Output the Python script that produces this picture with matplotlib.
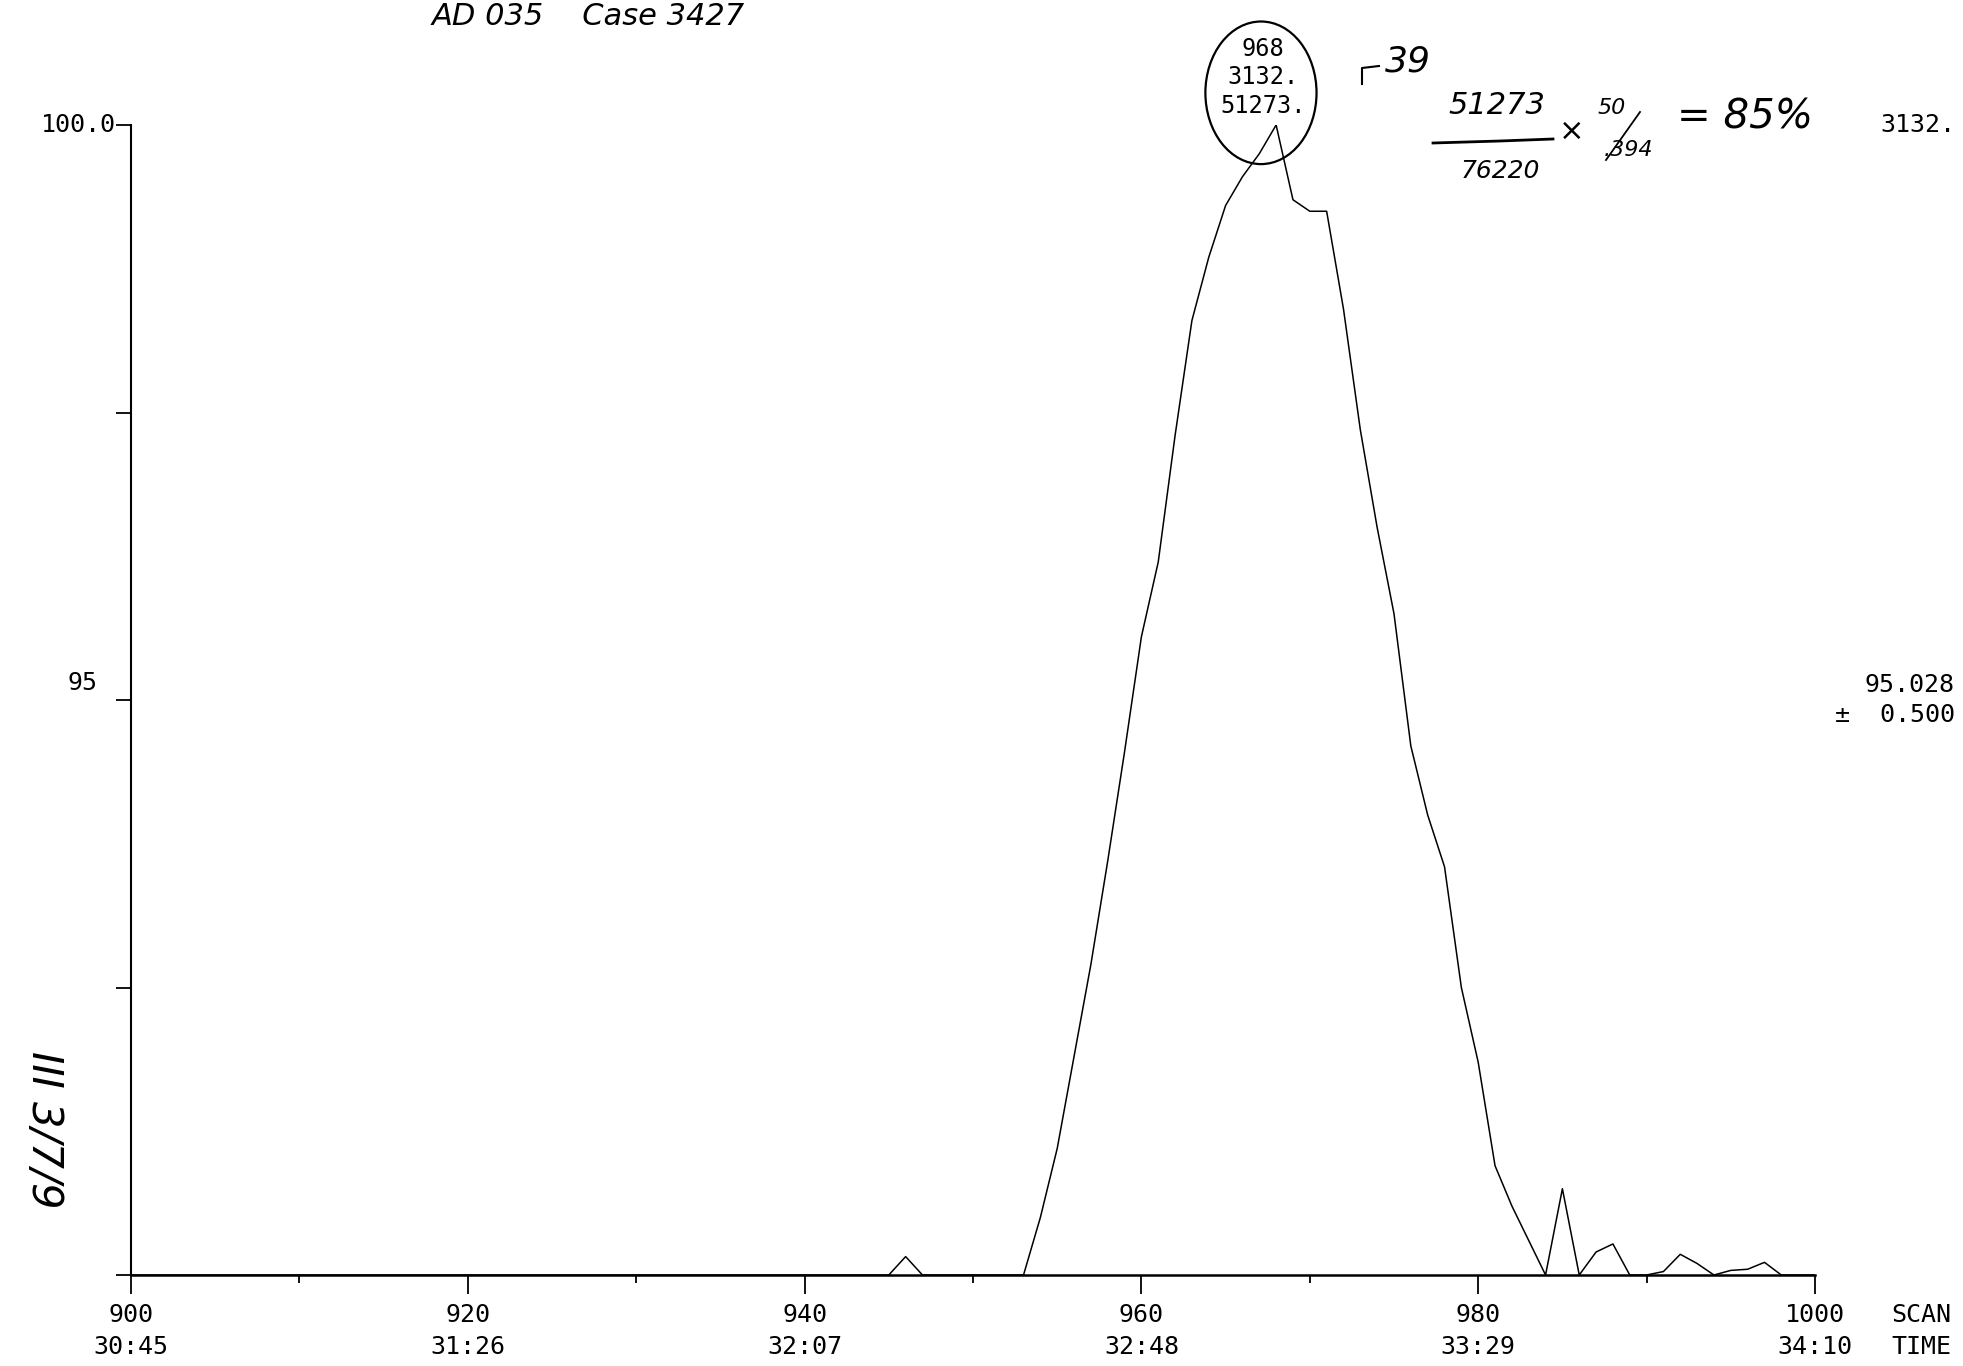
import numpy as np
import matplotlib
matplotlib.use("Agg")
import matplotlib.pyplot as plt
from matplotlib.patches import Ellipse
from matplotlib.lines import Line2D

# ion trace, one value per scan (relative abundance, %)
scans = np.arange(900, 1001)
intensity = [
    0, 0, 0, 0, 0, 0, 0, 0, 0, 0,            # 900-909
    0, 0, 0, 0, 0, 0, 0, 0, 0, 0,            # 910-919
    0, 0, 0, 0, 0, 0, 0, 0, 0, 0,            # 920-929
    0, 0, 0, 0, 0, 0, 0, 0, 0, 0,            # 930-939
    0, 0, 0, 0, 0, 0, 1.6, 0, 0, 0,          # 940-949
    0, 0, 0, 0, 5, 11, 19, 27, 36, 45.5,     # 950-959
    55.5, 62, 73, 83, 88.5, 93, 95.5, 97.5, 100, 93.5,   # 960-969
    92.5, 92.5, 84, 73.5, 65, 57.5, 46, 40, 35.5, 25,    # 970-979
    18.5, 9.5, 6, 3, 0, 7.5, 0, 2, 2.7, 0,   # 980-989
    0, 0.3, 1.8, 1.0, 0, 0.4, 0.5, 1.1, 0, 0,  # 990-999
    0,                                        # 1000
]

x_major = [900, 920, 940, 960, 980, 1000]
x_minor = [910, 930, 950, 970, 990]
scan_labels = ["900", "920", "940", "960", "980", "1000"]
time_labels = ["30:45", "31:26", "32:07", "32:48", "33:29", "34:10"]
y_ticks = [0, 25, 50, 75, 100]
peak_text = ["968", "3132.", "51273."]

MONO = "DejaVu Sans Mono"
HAND = dict(family="DejaVu Sans", style="italic", color="black")

W, H = 1963, 1366
def fx(px):
    return px / W
def fy(py):
    return 1 - py / H

fig = plt.figure(figsize=(W / 100, H / 100), dpi=100)
ax = fig.add_axes([fx(131), fy(1275), (1815 - 131) / W, (1275 - 125) / H])

ax.plot(scans, intensity, color="black", lw=1.1)
ax.set_xlim(900, 1000)
ax.set_ylim(0, 100)

for s in ["top", "right"]:
    ax.spines[s].set_visible(False)
ax.spines["bottom"].set_linewidth(1.8)
ax.spines["left"].set_linewidth(1.5)

ax.set_xticks(x_major)
ax.set_xticks(x_minor, minor=True)
ax.set_xticklabels([f"{s}\n{t}" for s, t in zip(scan_labels, time_labels)],
                   fontfamily=MONO, fontsize=18)
for lab in ax.get_xticklabels():
    lab.set_linespacing(1.45)
ax.tick_params(axis="x", which="major", length=14, width=1.3, direction="out", pad=6)
ax.tick_params(axis="x", which="minor", length=6, width=1.3, direction="out")
ax.set_yticks(y_ticks)
ax.set_yticklabels([])
ax.tick_params(axis="y", length=11, width=1.3, direction="out")

ax.annotate("100.0", xy=(0, 100), xycoords=("axes fraction", "data"),
            xytext=(-11, 0), textcoords="offset points", ha="right", va="center",
            fontfamily=MONO, fontsize=18)
ax.annotate("95", xy=(0, 50), xycoords=("axes fraction", "data"),
            xytext=(-24, 12), textcoords="offset points", ha="right", va="center",
            fontfamily=MONO, fontsize=18)
ax.annotate("SCAN\nTIME", xy=(1000, 0), xycoords="data",
            xytext=(55, -20), textcoords="offset points", ha="left", va="top",
            fontfamily=MONO, fontsize=18, linespacing=1.45)

# peak label and hand-drawn circle
i_peak = int(np.argmax(intensity))
p_scan = scans[i_peak]
ax.text(p_scan - 0.8, 100.6, "\n".join(peak_text), ha="center", va="bottom",
        fontfamily=MONO, fontsize=17, linespacing=1.25, clip_on=False)
ax.add_patch(Ellipse((p_scan - 0.9, 102.8), 6.6, 12.4, angle=0, fill=False,
                     lw=1.6, color="black", clip_on=False))

# right side printout
fig.text(fx(1955), fy(125), "3132.", ha="right", va="center", fontfamily=MONO, fontsize=18)
fig.text(fx(1955), fy(700), "95.028\n\u00b1  0.500", ha="right", va="center",
         fontfamily=MONO, fontsize=18, linespacing=1.3)

# handwriting
fig.add_artist(Line2D([fx(1362), fx(1362), fx(1379)], [fy(84), fy(68), fy(66)],
                      color="black", lw=1.5))
fig.text(fx(1408), fy(62), "39", ha="center", va="center", fontsize=26, **HAND)
fig.text(fx(1497), fy(106), "51273", ha="center", va="center", fontsize=22, **HAND)
fig.add_artist(Line2D([fx(1433), fx(1500), fx(1553)], [fy(143), fy(141), fy(139)],
                      color="black", lw=2))
fig.text(fx(1500), fy(171), "76220", ha="center", va="center", fontsize=18, **HAND)
fig.text(fx(1572), fy(131), "\u00d7", ha="center", va="center", fontsize=22, **HAND)
fig.text(fx(1612), fy(108), "50", ha="center", va="center", fontsize=16, **HAND)
fig.add_artist(Line2D([fx(1606), fx(1640)], [fy(160), fy(112)], color="black", lw=1.3))
fig.text(fx(1628), fy(150), ".394", ha="center", va="center", fontsize=16, **HAND)
fig.text(fx(1745), fy(117), "= 85%", ha="center", va="center", fontsize=29, **HAND)

fig.text(fx(432), fy(2), "AD 035    Case 3427", ha="left", va="top", fontsize=22, **HAND)
fig.text(fx(44), fy(1130), "III 3/7/9", ha="center", va="center", rotation=-90,
         fontsize=30, **HAND)

fig.savefig("out.png", dpi=100, facecolor="white")
